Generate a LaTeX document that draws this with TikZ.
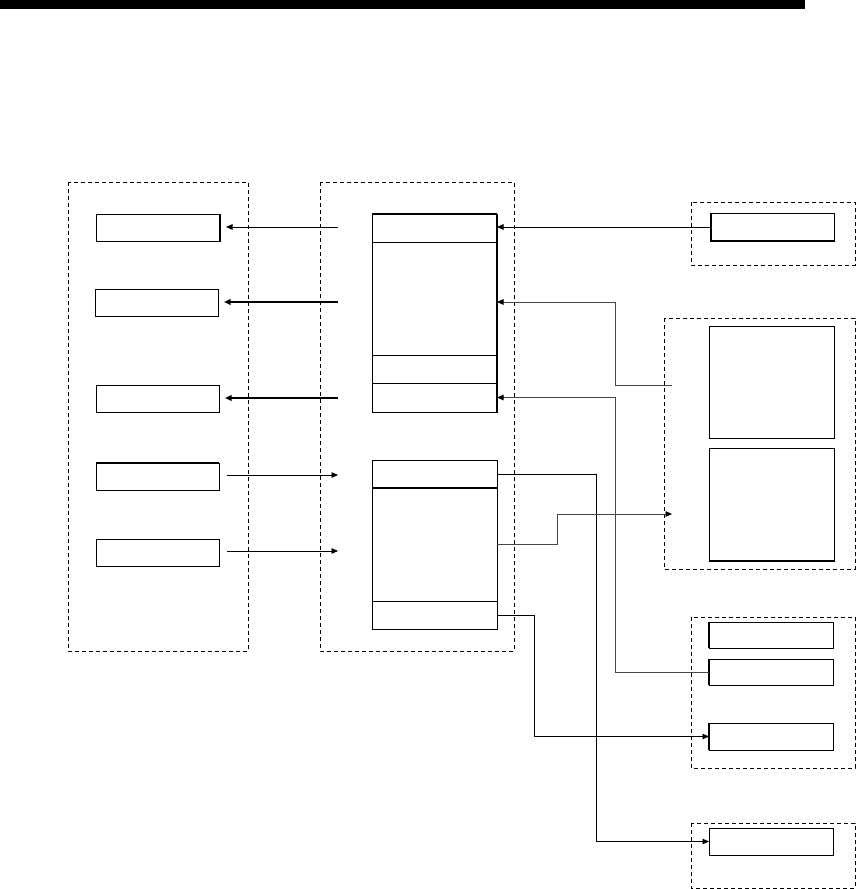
\documentclass[tikz,border=0pt]{standalone}
\usetikzlibrary{arrows.meta,calc}
\begin{document}
\begin{tikzpicture}[x=1pt,y=-1pt,
  blk/.style={draw, line width=0.9pt, inner sep=0pt, outer sep=0pt, anchor=north west},
  grp/.style={draw, dash pattern=on 4pt off 3pt, line width=0.8pt},
  conn/.style={line width=0.9pt, -{Triangle[length=6.5pt,width=5.5pt,color=black]}},
  bconn/.style={conn, line width=1.8pt},
  gconn/.style={conn, draw=black!72},
  thickedge/.style={line width=1.8pt}]
\useasboundingbox (0,0) rectangle (856,889);
\fill[black] (0,0) rectangle (805,9);
% groups
\draw[grp] (68,182) rectangle (248,651);
\draw[grp] (320,182) rectangle (514,651);
\draw[grp] (691,202) rectangle (855,265);
\draw[grp] (664,318) rectangle (855,569);
\draw[grp] (691,617) rectangle (855,768);
\draw[grp] (691,823) rectangle (855,888);
% left boxes
\node[blk, minimum width=124pt, minimum height=27pt] (L1) at (96,214) {};
\node[blk, minimum width=123pt, minimum height=27pt] (L2) at (95,289) {};
\node[blk, minimum width=123pt, minimum height=27pt] (L3) at (96,385) {};
\node[blk, minimum width=123pt, minimum height=27pt] (L4) at (96,463) {};
\node[blk, minimum width=123pt, minimum height=27pt] (L5) at (96,539) {};
% middle stacks
\node[blk, minimum width=125pt, minimum height=28pt] (S1a) at (372,214) {};
\node[blk, minimum width=125pt, minimum height=113pt] (S1b) at (372,242) {};
\node[blk, minimum width=125pt, minimum height=28pt] (S1c) at (372,355) {};
\node[blk, minimum width=125pt, minimum height=29pt] (S1d) at (372,383) {};
\node[blk, minimum width=125pt, minimum height=28pt] (S2a) at (372,460) {};
\node[blk, minimum width=125pt, minimum height=113pt] (S2b) at (372,488) {};
\node[blk, minimum width=125pt, minimum height=28pt] (S2c) at (372,601) {};
% right boxes
\node[blk, minimum width=123pt, minimum height=28pt] (R1) at (711,213) {};
\node[blk, minimum width=125pt, minimum height=112pt] (R2a) at (709,326) {};
\node[blk, minimum width=125pt, minimum height=113pt] (R2b) at (709,448) {};
\node[blk, minimum width=124pt, minimum height=26pt] (R3a) at (709,622) {};
\node[blk, minimum width=124pt, minimum height=26pt] (R3b) at (709,659) {};
\node[blk, minimum width=124pt, minimum height=27pt] (R3c) at (709,723) {};
\node[blk, minimum width=124pt, minimum height=27pt] (R4) at (709,828) {};
% thick edges
\draw[thickedge] (L1.north east) -- (L1.south east);
\draw[thickedge] (L4.north west) -- (L4.north east);
\draw[thickedge] (S1a.north west) -- (S1a.north east);
\draw[thickedge] (S1a.north east) -- (S1d.south east);
\draw[thickedge] (S2a.south west) -- (S2a.south east);
\draw[thickedge] (R1.north west) -- (R1.south west) -- (R1.south east);
\draw[thickedge] (R2b.south west) -- (R2b.south east);
\draw[thickedge] (R3a.north west) -- (R3a.south west);
\draw[thickedge] (R3b.north west) -- (R3b.south west);
\draw[thickedge] (R3c.north west) -- (R3c.south west);
% free ends
\coordinate (a1) at (338,227);
\coordinate (a2) at (338,302);
\coordinate (a3) at (338,398);
\coordinate (b1) at (338,475);
\coordinate (b2) at (338,551);
\coordinate (p1) at (672,385);
\coordinate (p2) at (672,514);
\coordinate (t1) at (615,302);
% left arrows
\draw[conn, shorten >=6pt] (a1) -- (a1 -| L1.east);
\draw[bconn, shorten >=6pt] (a2) -- (a2 -| L2.east);
\draw[bconn, shorten >=6pt] (a3) -- (a3 -| L3.east);
\draw[conn, shorten <=8pt] (b1 -| L4.east) -- (b1);
\draw[conn, shorten <=8pt] (b2 -| L5.east) -- (b2);
% right connectors
\draw[conn] (R1.west) -- (R1.west -| S1a.east);
\draw[gconn] (p1) -| (t1) -- (t1 -| S1b.east);
\draw[gconn] (R3b.west) -| ($(S1d.east)+(118,0)$) -- (S1d.east);
\draw[conn] (S2a.east) -- ++(99,0) |- (R4.west);
\draw[gconn] (S2b.east) -- ++(60,0) |- (p2);
\draw[conn] (S2c.east) -- ++(37,0) |- (R3c.west);
\end{tikzpicture}
\end{document}
